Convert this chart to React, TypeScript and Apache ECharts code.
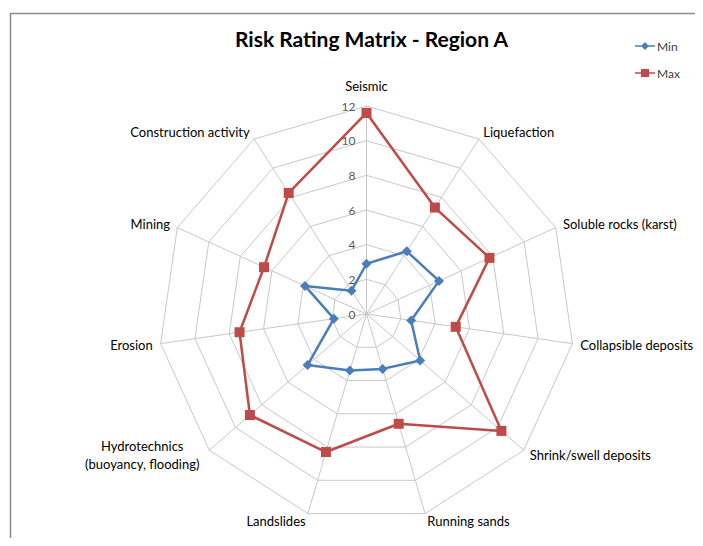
import React, { useEffect, useRef } from "react";
import * as echarts from "echarts";

const categories = [
  "Seismic",
  "Liquefaction",
  "Soluble rocks (karst)",
  "Collapsible deposits",
  "Shrink/swell deposits",
  "Running sands",
  "Landslides",
  "Hydrotechnics\n(buoyancy, flooding)",
  "Erosion",
  "Mining",
  "Construction activity",
];
const minValues = [2.9, 4.3, 4.6, 2.6, 4.1, 3.3, 3.4, 4.5, 1.9, 3.9, 1.6];
const maxValues = [11.6, 7.3, 7.8, 5.2, 10.3, 6.6, 8.3, 8.9, 7.4, 6.5, 8.3];
const axisMax = 12;
const tickStep = 2;

// ECharts radar runs counter-clockwise; reorder so the chart runs clockwise.
const order = [0, ...categories.slice(1).map((_, i) => categories.length - 1 - i)];

const MIN_ICON =
  "path://M0,4.2 L20,4.2 L20,5.8 L0,5.8 Z M10,1 L14,5 L10,9 L6,5 Z";
const MAX_ICON =
  "path://M0,4.2 L20,4.2 L20,5.8 L0,5.8 Z M6,1 L14,1 L14,9 L6,9 Z";

export default function App() {
  const ref = useRef<HTMLDivElement>(null);
  useEffect(() => {
    if (!ref.current) return;
    const chart = echarts.init(ref.current, undefined, { renderer: "svg" });
    const font = "Lato, 'Open Sans', sans-serif";
    const cx = 366.5;
    const cy = 314;
    const r = 208;
    chart.setOption({
      animation: false,
      backgroundColor: "#ffffff",
      title: {
        text: "Risk Rating Matrix - Region A",
        left: cx,
        top: 23,
        textAlign: "center",
        textStyle: { fontFamily: font, fontWeight: "bold", fontSize: 21, color: "#000000" },
      },
      legend: {
        orient: "vertical",
        left: 630,
        top: 35,
        itemWidth: 20,
        itemHeight: 10,
        itemGap: 15,
        textStyle: { fontFamily: font, fontSize: 12, color: "#404040", padding: [0, 0, 0, -3] },
        data: [
          { name: "Min", icon: MIN_ICON },
          { name: "Max", icon: MAX_ICON },
        ],
      },
      graphic: [
        {
          type: "rect",
          shape: { x: 10.5, y: 13.5, width: 720, height: 560 },
          style: { fill: "none", stroke: "#8a8a8a", lineWidth: 1.5 },
          silent: true,
        },
      ],
      radar: {
        center: [cx, cy],
        radius: r,
        startAngle: 90,
        splitNumber: axisMax / tickStep,
        shape: "polygon",
        nameGap: 8,
        axisName: {
          fontFamily: font,
          fontSize: 13,
          color: "#000000",
          formatter: (name: string) => {
            if (name.includes("\n")) {
              return name
                .split("\n")
                .map((s) => "{c|" + s + "}")
                .join("\n");
            }
            if (name === categories[0]) return "{t|" + name + "}";
            return name;
          },
          rich: {
            c: { fontFamily: font, fontSize: 13, color: "#000000", width: 122, align: "center", lineHeight: 18 },
            t: { fontFamily: font, fontSize: 13, color: "#000000", padding: [0, 0, 6, 0] },
          },
        },
        splitLine: { lineStyle: { color: "#c8c8c8", width: 1 } },
        splitArea: { show: false },
        axisLine: { lineStyle: { color: "#c8c8c8", width: 1 } },
        indicator: order.map((i) => ({ name: categories[i], min: 0, max: axisMax })),
      },
      polar: { center: [cx, cy], radius: r },
      angleAxis: { show: false, startAngle: 90, min: 0, max: 360 },
      radiusAxis: {
        min: 0,
        max: axisMax,
        interval: tickStep,
        axisLine: { show: false },
        axisTick: { show: false },
        splitLine: { show: false },
        axisLabel: { fontFamily: font, fontSize: 12, color: "#595959", margin: 11 },
      },
      series: [
        {
          type: "radar",
          data: [
            {
              name: "Min",
              value: order.map((i) => minValues[i]),
              symbol: "diamond",
              symbolSize: 10,
              lineStyle: { color: "#4a7ebb", width: 2.5 },
              itemStyle: { color: "#4a7ebb" },
            },
            {
              name: "Max",
              value: order.map((i) => maxValues[i]),
              symbol: "rect",
              symbolSize: 10,
              lineStyle: { color: "#be4b48", width: 2.5 },
              itemStyle: { color: "#be4b48" },
            },
          ],
        },
      ],
    });
    return () => chart.dispose();
  }, []);
  return <div ref={ref} style={{ width: 703, height: 546, margin: -8 }} />;
}
